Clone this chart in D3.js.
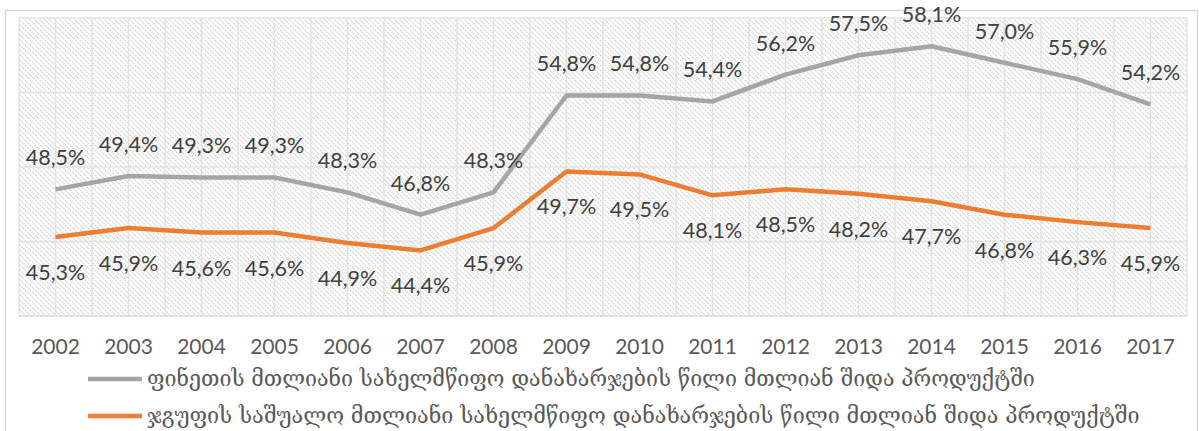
<!DOCTYPE html>
<html>
<head>
<meta charset="utf-8">
<script src="https://cdn.jsdelivr.net/npm/d3@7"></script>
<style>
  body { margin: 0; background: #fff; }
  svg { display: block; }
</style>
</head>
<body>
<div id="chart"></div>
<script>
const years = ["2002", "2003", "2004", "2005", "2006", "2007", "2008", "2009",
               "2010", "2011", "2012", "2013", "2014", "2015", "2016", "2017"]
const finland = [48.5, 49.4, 49.3, 49.3, 48.3, 46.8, 48.3, 54.8, 54.8, 54.4, 56.2, 57.5, 58.1, 57.0, 55.9, 54.2]
const group = [45.3, 45.9, 45.6, 45.6, 44.9, 44.4, 45.9, 49.7, 49.5, 48.1, 48.5, 48.2, 47.7, 46.8, 46.3, 45.9]
const seriesNames = [
    "ფინეთის მთლიანი სახელმწიფო დანახარჯების წილი მთლიან შიდა პროდუქტში",
    "ჯგუფის საშუალო მთლიანი სახელმწიფო დანახარჯების წილი მთლიან შიდა პროდუქტში"
]
const yTicks = [40, 45, 50, 55, 60]

const width = 1199, height = 431
const margin = {top: 18, right: 12, bottom: 115, left: 19}

const svg = d3.select("#chart").append("svg")
    .attr("width", width)
    .attr("height", height)

// hatch fill of the plot area
const defs = svg.append("defs")
defs.append("pattern")
    .attr("id", "hatch")
    .attr("patternUnits", "userSpaceOnUse")
    .attr("width", 5)
    .attr("height", 5)
    .append("path")
    .attr("d", "M0,0 L5,5 M-1,4 L1,6 M4,-1 L6,1")
    .attr("stroke", "#d4d4d4")
    .attr("stroke-width", 1.3)
    .attr("stroke-dasharray", "1.5,0.8")

// chart border
svg.append("rect")
    .attr("x", 5.5).attr("y", 10.5)
    .attr("width", 1192).attr("height", 440)
    .attr("fill", "#fff")
    .attr("stroke", "#d9d9d9")
    .attr("stroke-width", 1.5)

const x = d3.scaleBand().domain(years).range([margin.left, width - margin.right])
const y = d3.scaleLinear().domain([40, 60]).range([height - margin.bottom, margin.top])
const bw = x.bandwidth()

svg.append("rect")
    .attr("x", x.range()[0]).attr("y", y(60))
    .attr("width", x.range()[1] - x.range()[0])
    .attr("height", y(40) - y(60))
    .attr("fill", "url(#hatch)")

// gridlines: band edges and centres, plus the value ticks
const grid = svg.append("g").attr("class", "grid")
const vx = []
years.forEach(yr => { vx.push(x(yr)); vx.push(x(yr) + bw / 2) })
vx.push(x.range()[1])
grid.selectAll("line.v").data(vx).enter().append("line")
    .attr("x1", d => d).attr("x2", d => d)
    .attr("y1", y(60)).attr("y2", y(40))
    .attr("stroke", "#e3e3e3").attr("stroke-width", 1.5)
grid.selectAll("line.h").data(yTicks).enter().append("line")
    .attr("x1", x.range()[0]).attr("x2", x.range()[1])
    .attr("y1", d => y(d)).attr("y2", d => y(d))
    .attr("stroke", d => d === 40 ? "#d9d9d9" : "#e3e3e3").attr("stroke-width", 1.5)

// year axis
const xAxis = svg.append("g")
    .attr("transform", "translate(0," + (y(40) + 20) + ")")
    .call(d3.axisBottom(x).tickSize(0))
xAxis.select(".domain").remove()
xAxis.selectAll("text")
    .attr("dy", "0.71em")
    .style("font-family", "Lato, 'Open Sans', sans-serif")
    .style("font-size", "21px")
    .style("fill", "#595959")

const fmt = v => v.toFixed(1).replace(".", ",") + "%"
const cx = yr => x(yr) + bw / 2

const line = d3.line()
    .x(d => cx(d[0]))
    .y(d => y(d[1]))

const series = [
    {values: finland, color: "#a5a5a5", dy: -24},
    {values: group, color: "#ed7d31", dy: 43}
]

series.forEach(s => {
    const pts = years.map((yr, i) => [yr, s.values[i]])
    svg.append("path")
        .datum(pts)
        .attr("d", line)
        .attr("fill", "none")
        .attr("stroke", s.color)
        .attr("stroke-width", 4.5)
        .attr("stroke-linejoin", "round")
})

series.forEach(s => {
    svg.append("g").selectAll("text")
        .data(years.map((yr, i) => [yr, s.values[i]]))
        .enter().append("text")
        .attr("x", d => cx(d[0]))
        .attr("y", d => y(d[1]) + s.dy)
        .attr("text-anchor", "middle")
        .style("font-family", "Lato, 'Open Sans', sans-serif")
        .style("font-size", "21.5px")
        .style("fill", "#404040")
        .text(d => fmt(d[1]))
})

// legend
const legendRows = [
    {name: seriesNames[0], color: "#a5a5a5", y: 379, right: 1035},
    {name: seriesNames[1], color: "#ed7d31", y: 416, right: 1140}
]
legendRows.forEach(r => {
    svg.append("line")
        .attr("x1", 88).attr("x2", 142)
        .attr("y1", r.y).attr("y2", r.y)
        .attr("stroke", r.color).attr("stroke-width", 4.5)
    const t = svg.append("text")
        .attr("x", 147)
        .attr("y", r.y)
        .attr("dy", "0.32em")
        .style("font-family", "'DejaVu Serif', 'DejaVu Sans', serif")
        .style("font-size", "20px")
        .style("fill", "#595959")
        .text(r.name)
    // fit the Georgian text to the width it takes in the reference
    const w = t.node().getComputedTextLength()
    if (w > 0) t.style("font-size", (20 * (r.right - 147) / w) + "px")
})
</script>
</body>
</html>
